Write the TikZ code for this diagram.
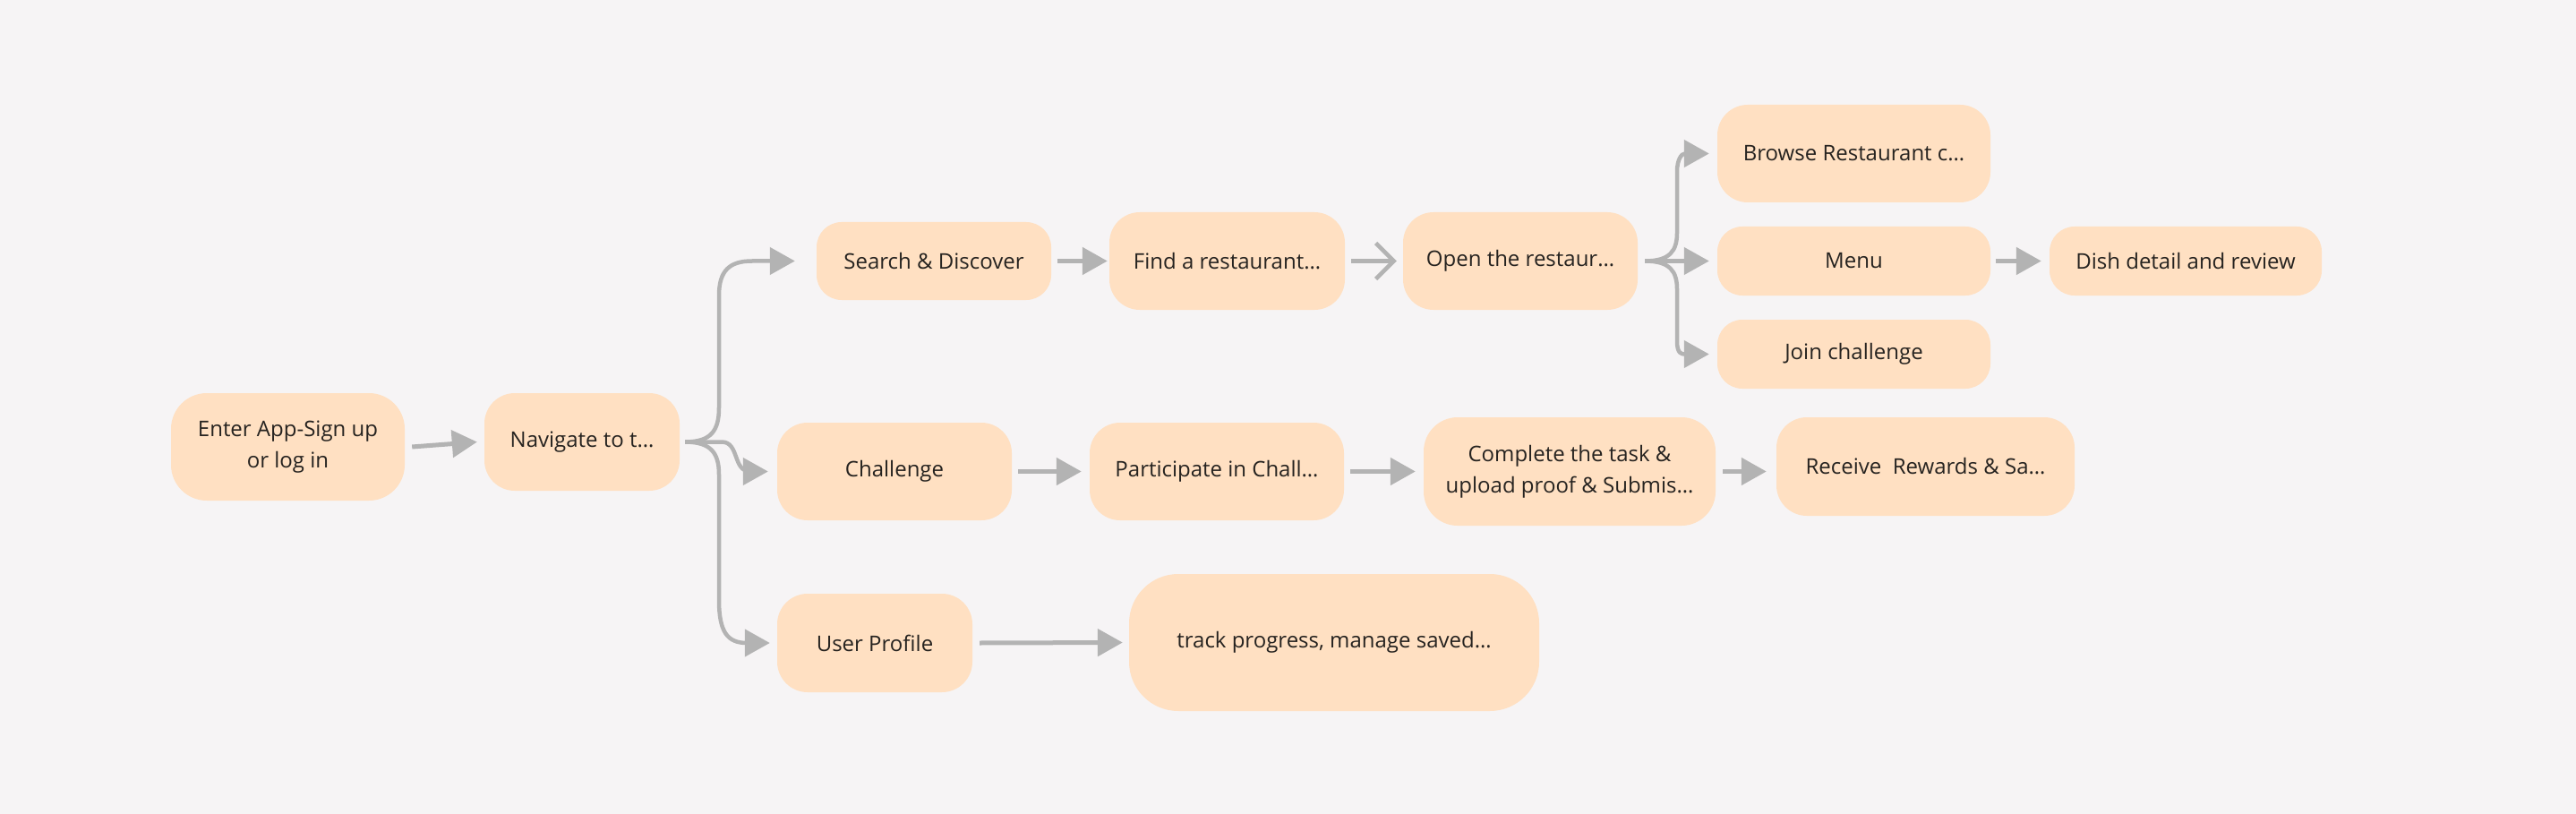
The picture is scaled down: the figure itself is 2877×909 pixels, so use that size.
\documentclass[tikz,border=0pt]{standalone}
\usepackage{fontspec}
\setmainfont{Open Sans}
\usetikzlibrary{arrows.meta}
\definecolor{bg}{HTML}{F6F4F5}
\definecolor{peach}{HTML}{FFE0C2}
\definecolor{arr}{HTML}{B3B3B3}
\definecolor{txt}{HTML}{262320}
\begin{document}
\begin{tikzpicture}[x=1pt,y=-1pt,
  box/.style={rectangle, rounded corners=34pt, fill=peach, draw=none, inner sep=0pt,
    align=center, text=txt, font=\fontsize{24}{35}\selectfont},
  lowbox/.style={box, rounded corners=28pt},
  flow/.style={draw=arr, line width=5pt, -{Triangle[length=28pt,width=30pt]}},
  branch/.style={draw=arr, line width=4.5pt, -{Triangle[length=28pt,width=30pt]}},
  barb/.style={draw=arr, line width=4.5pt, -{Straight Barb[length=20pt,width=40pt]}}
]
\fill[bg] (0,0) rectangle (2877,909);
\useasboundingbox (0,0) rectangle (2877,909);

% nodes
\node[box, rounded corners=40pt, minimum width=261pt, minimum height=120pt] (enter) at (321.5,499) {Enter App-Sign up\\or log in};
\node[box, minimum width=218pt, minimum height=109pt] (nav) at (650,493.5) {Navigate to t…};
\node[lowbox, minimum width=262pt, minimum height=87pt] (search) at (1043,291.5) {Search \& Discover};
\node[box, minimum width=263pt, minimum height=109pt] (find) at (1370.5,291.5) {Find a restaurant…};
\node[box, minimum width=262pt, minimum height=109pt] (open) at (1698,291.5) {Open the restaur…};
\node[box, minimum width=305pt, minimum height=109pt] (browse) at (2070.5,171.5) {Browse Restaurant c…};
\node[lowbox, minimum width=305pt, minimum height=77pt] (menu) at (2070.5,291.5) {Menu};
\node[lowbox, minimum width=305pt, minimum height=77pt] (join) at (2070.5,395.5) {Join challenge};
\node[lowbox, minimum width=304pt, minimum height=77pt] (dish) at (2441,291.5) {Dish detail and review};
\node[box, minimum width=262pt, minimum height=109pt] (chal) at (999,526.5) {Challenge};
\node[box, minimum width=284pt, minimum height=109pt] (part) at (1359,526.5) {Participate in Chall…};
\node[box, rounded corners=38pt, minimum width=326pt, minimum height=121pt] (comp) at (1753,526.5) {Complete the task \&\\upload proof \& Submis…};
\node[box, minimum width=333pt, minimum height=110pt] (recv) at (2150.5,521) {Receive~ Rewards \& Sa…};
\node[box, minimum width=218pt, minimum height=110pt] (prof) at (977,718) {User Profile};
\node[box, rounded corners=55pt, minimum width=458pt, minimum height=153pt] (track) at (1490,717.5) {track progress, manage saved…};

% straight connectors
\draw[flow] ([xshift=8pt]enter.east) -- ([xshift=-8pt]nav.west);
\draw[flow] ([xshift=7pt]search.east) -- ([xshift=-2pt]search.east -| find.west);
\draw[barb] ([xshift=7pt]find.east) -- ([xshift=-7pt]open.west);
\draw[flow] ([xshift=6pt]menu.east) -- ([xshift=-9pt]dish.west);
\draw[flow] ([xshift=7pt]chal.east) -- ([xshift=-9pt]part.west);
\draw[flow] ([xshift=7pt]part.east) -- ([xshift=-9pt]part.east -| comp.west);
\draw[flow] ([xshift=8pt]comp.east) -- ([xshift=-11pt]comp.east -| recv.west);
\draw[flow] ([xshift=8pt]prof.east) -- ([xshift=-7pt]track.west);

% branch from Navigate
\coordinate (nb) at ([xshift=6pt]nav.east);
\draw[branch] (nb) .. controls (795,493.5) and (803,480) .. (803,455) -- (803,330)
  .. controls (803,302) and (815,291.5) .. (840,291.5) -- ([xshift=-24pt]search.west);
\draw[branch] (nb) -- (806,493.5) .. controls (826,493.5) and (818,526.5) .. (838,526.5) -- ([xshift=-10pt]chal.west);
\draw[branch] (nb) .. controls (795,493.5) and (803,507) .. (803,530) -- (803,670)
  .. controls (803,705) and (812,718) .. (834,718) -- ([xshift=-8pt]prof.west);

% branch from Open
\coordinate (ob) at ([xshift=8pt]open.east);
\draw[branch] (ob) .. controls (1865,291.5) and (1873,280) .. (1873,260) -- (1873,192)
  .. controls (1873,178) and (1878,171.5) .. ([xshift=-9pt]browse.west);
\draw[branch] (ob) -- ([xshift=-9pt]menu.west);
\draw[branch] (ob) .. controls (1865,291.5) and (1873,303) .. (1873,323) -- (1873,381)
  .. controls (1873,395) and (1878,395.5) .. ([xshift=-9pt]join.west);
\end{tikzpicture}
\end{document}
